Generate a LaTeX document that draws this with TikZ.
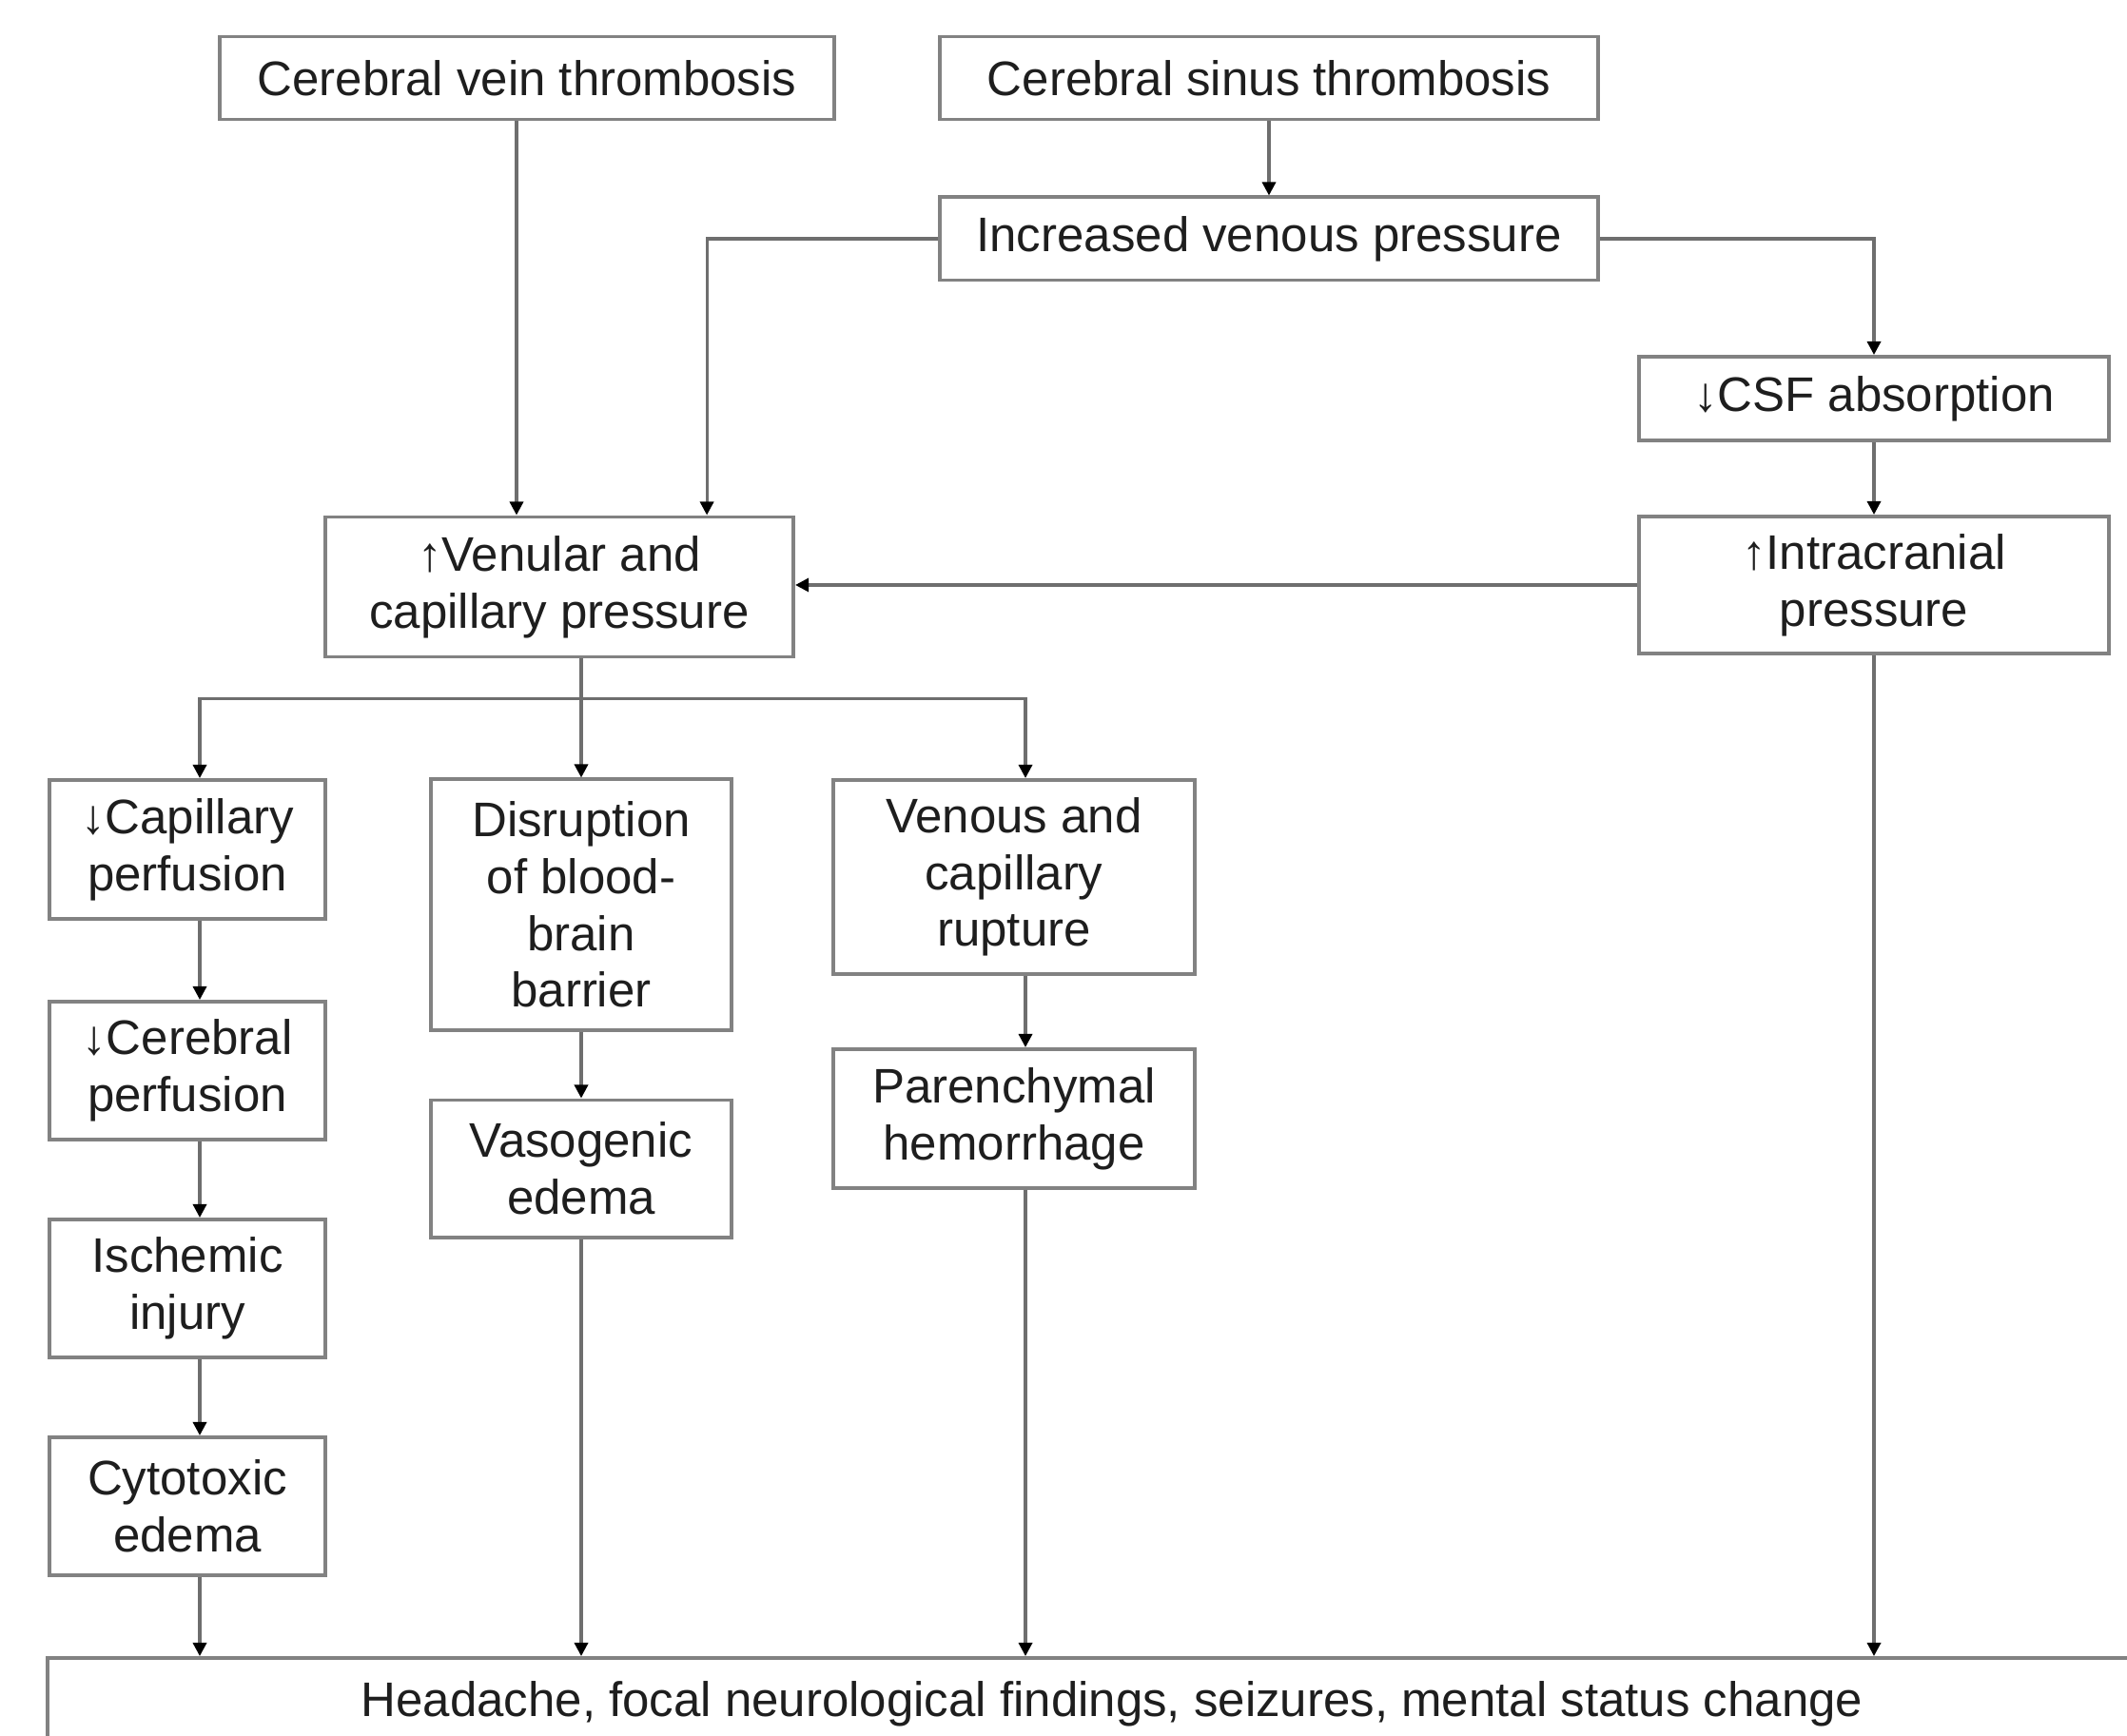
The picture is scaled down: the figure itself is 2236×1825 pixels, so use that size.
\documentclass[tikz,border=0pt]{standalone}
\usepackage{fontspec}
\setmainfont{Liberation Sans}
\usepackage{xcolor}
\definecolor{BoxLine}{RGB}{130,130,130}
\definecolor{LinkLine}{RGB}{110,110,110}
\definecolor{TextColor}{RGB}{30,30,30}
\usetikzlibrary{positioning, arrows.meta, calc}

\begin{document}
\begin{tikzpicture}[
    x=0.01cm, y=-0.01cm,
    box/.style={rectangle, draw=BoxLine, line width=1.1pt, fill=white, inner sep=0pt,
        align=center, text=TextColor, font=\fontsize{14.5}{17}\selectfont},
    arrow/.style={draw=LinkLine, line width=0.9pt, -{Triangle[width=4pt, length=4pt, black]}},
    link/.style={draw=LinkLine, line width=0.9pt},
]
\useasboundingbox (0,0) rectangle (2236,1825);

% ============================================
% TOP ROW - THROMBOSIS
% ============================================
\node[box, minimum width=6.46cm, minimum height=0.87cm] (vein) at (554,82) {Cerebral vein thrombosis};
\node[box, minimum width=6.92cm, minimum height=0.87cm] (sinus) at (1334,82) {Cerebral sinus thrombosis};
\node[box, minimum width=6.92cm, minimum height=0.87cm, below=0.78cm of sinus] (ivp) {Increased venous pressure};

% ============================================
% PRESSURE BOXES
% ============================================
\node[box, minimum width=4.93cm, minimum height=0.88cm] (csf) at (1970,419) {↓CSF absorption};
\node[box, minimum width=4.93cm, minimum height=1.44cm, below=0.76cm of csf] (icp) {↑Intracranial\\pressure};
\node[box, minimum width=4.92cm, minimum height=1.47cm] (vcp) at (588,617) {↑Venular and\\capillary pressure};

% ============================================
% LEFT BRANCH - PERFUSION
% ============================================
\node[box, minimum width=2.89cm, minimum height=1.46cm] (capperf) at (197,893) {↓Capillary\\perfusion};
\node[box, minimum width=2.89cm, minimum height=1.45cm, below=0.83cm of capperf] (cerebperf) {↓Cerebral\\perfusion};
\node[box, minimum width=2.89cm, minimum height=1.45cm, below=0.80cm of cerebperf] (ischemic) {Ischemic\\injury};
\node[box, minimum width=2.89cm, minimum height=1.45cm, below=0.80cm of ischemic] (cytotox) {Cytotoxic\\edema};

% ============================================
% MIDDLE BRANCH - BARRIER
% ============================================
\node[box, minimum width=3.16cm, minimum height=2.63cm] (disrupt) at (611,951) {Disruption\\of blood-\\brain\\barrier};
\node[box, minimum width=3.16cm, minimum height=1.44cm, below=0.70cm of disrupt] (vasogenic) {Vasogenic\\edema};

% ============================================
% RIGHT BRANCH - RUPTURE
% ============================================
\node[box, minimum width=3.80cm, minimum height=2.04cm] (rupture) at (1066,922) {Venous and\\capillary\\rupture};
\node[box, minimum width=3.80cm, minimum height=1.46cm, below=0.75cm of rupture] (parench) {Parenchymal\\hemorrhage};

% ============================================
% OUTCOME
% ============================================
\node[box, minimum width=22.36cm, minimum height=0.96cm] (outcome) at (1169,1791) {Headache, focal neurological findings, seizures, mental status change};

% ============================================
% ARROWS - Top
% ============================================
\draw[arrow] ([xshift=-0.11cm]vein.south) -- ([xshift=-0.11cm]vein.south |- vcp.north);
\draw[arrow] (sinus.south) -- (ivp.north);
\draw[arrow] (ivp.west) -| ([xshift=1.55cm]vcp.north);
\draw[arrow] (ivp.east) -| (csf.north);
\draw[arrow] (csf.south) -- (icp.north);
\draw[arrow] (icp.west) -- (icp.west -| vcp.east);

% ============================================
% ARROWS - Split below venular pressure
% ============================================
\coordinate (bus) at ($(vcp.south -| disrupt.north)+(0,42)$);
\draw[link] (vcp.south -| disrupt.north) -- (bus);
\draw[arrow] (bus) -- (disrupt.north);
\draw[arrow] (bus) -| ([xshift=0.13cm]capperf.north);
\draw[arrow] (bus) -| ([xshift=0.12cm]rupture.north);

% ============================================
% ARROWS - Chains
% ============================================
\draw[arrow] ([xshift=0.13cm]capperf.south) -- ([xshift=0.13cm]cerebperf.north);
\draw[arrow] ([xshift=0.13cm]cerebperf.south) -- ([xshift=0.13cm]ischemic.north);
\draw[arrow] ([xshift=0.13cm]ischemic.south) -- ([xshift=0.13cm]cytotox.north);
\draw[arrow] (disrupt.south) -- (vasogenic.north);
\draw[arrow] ([xshift=0.12cm]rupture.south) -- ([xshift=0.12cm]parench.north);

% ============================================
% ARROWS - Into outcome
% ============================================
\draw[arrow] ([xshift=0.13cm]cytotox.south) -- ([xshift=0.13cm]cytotox.south |- outcome.north);
\draw[arrow] (vasogenic.south) -- (vasogenic.south |- outcome.north);
\draw[arrow] ([xshift=0.12cm]parench.south) -- ([xshift=0.12cm]parench.south |- outcome.north);
\draw[arrow] (icp.south) -- (icp.south |- outcome.north);

\end{tikzpicture}
\end{document}
